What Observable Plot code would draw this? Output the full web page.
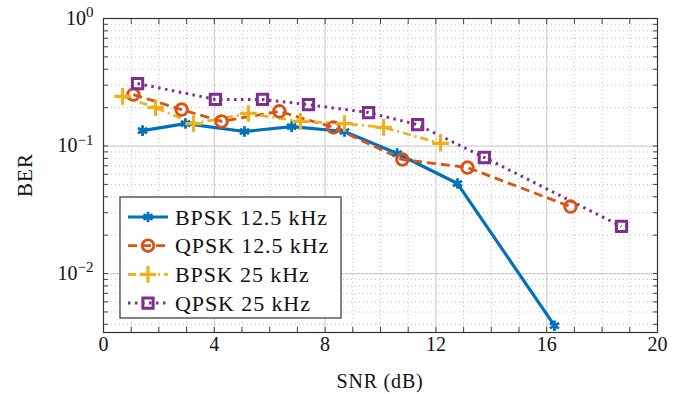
<!DOCTYPE html>
<html><head><meta charset="utf-8">
<script src="https://cdn.jsdelivr.net/npm/d3@7"></script>
<script src="https://cdn.jsdelivr.net/npm/@observablehq/plot@0.6"></script>
<style>
html,body{margin:0;padding:0;background:#fff;}
svg{display:block;font-family:"Liberation Serif","DejaVu Serif",serif;}
</style>
</head><body>
<div id="chart"></div>
<script>
// Data
const series = ["BPSK 12.5 kHz", "QPSK 12.5 kHz", "BPSK 25 kHz", "QPSK 25 kHz"];
const colors = ["#0072BD", "#D95319", "#EDB120", "#7E2F8E"];
const snr_b125 = [1.41, 2.96, 5.09, 6.79, 8.70, 10.6, 12.78, 16.28];
const ber_b125 = [0.132, 0.150, 0.130, 0.142, 0.130, 0.0873, 0.0508, 0.0039];
const snr_q125 = [1.08, 2.82, 4.26, 6.35, 8.30, 10.79, 13.14, 16.86];
const ber_q125 = [0.253, 0.193, 0.156, 0.187, 0.140, 0.0784, 0.0678, 0.0335];
const snr_b25 = [0.69, 1.88, 3.25, 5.23, 7.11, 8.70, 10.11, 12.17];
const ber_b25 = [0.245, 0.200, 0.150, 0.180, 0.156, 0.150, 0.140, 0.105];
const snr_q25 = [1.23, 4.04, 5.74, 7.40, 9.57, 11.34, 13.75, 18.70];
const ber_q25 = [0.309, 0.232, 0.232, 0.211, 0.183, 0.147, 0.0813, 0.0234];
const xTicks = [0, 4, 8, 12, 16, 20];
const yTicks = [1, 0.1, 0.01];
const xLabel = "SNR (dB)";
const yLabel = "BER";

const xs = [snr_b125, snr_q125, snr_b25, snr_q25];
const ys = [ber_b125, ber_q125, ber_b25, ber_q25];
const data = series.flatMap((s, i) => xs[i].map((x, j) => ({series: s, snr: x, ber: ys[i][j]})));

const styles = [
  {dash: null, width: 3.2, symbol: "asterisk", r: 5, sw: 2.8},
  {dash: "9,5", width: 2.8, symbol: "circle", r: 5.8, sw: 2.9},
  {dash: "8,4,2,4", width: 2.8, symbol: "plus", r: 5.4, sw: 3.2},
  {dash: "2.5,4.5", width: 3, symbol: "square", r: 5.8, sw: 3}
];

const xMinor = d3.range(0, 21, 1);
const yMinor = [];
for (const e of [-3, -2, -1]) for (let k = 1; k <= 9; k++) { const v = k * Math.pow(10, e); if (v >= 0.00345) yMinor.push(v); }
yMinor.push(1);
const xMinorGrid = xMinor.filter(v => !xTicks.includes(v));
const yMinorGrid = yMinor.filter(v => !yTicks.includes(v));

const W = 697, H = 394;
const marks = [
  Plot.ruleX(xMinorGrid, {stroke: "#bdbdbd", strokeDasharray: "1,3", strokeWidth: 1}),
  Plot.ruleY(yMinorGrid, {stroke: "#bdbdbd", strokeDasharray: "1,3", strokeWidth: 1}),
  Plot.ruleX(xTicks.slice(1, -1), {stroke: "#cfcfcf", strokeWidth: 1.2}),
  Plot.ruleY(yTicks.slice(1), {stroke: "#cfcfcf", strokeWidth: 1.2}),
  Plot.axisX({ticks: xMinor, tickSize: 5, text: null, dy: -5, stroke: "#444"}),
  Plot.axisX({anchor: "top", ticks: xMinor, tickSize: 5, text: null, dy: 5, stroke: "#444", label: null}),
  Plot.axisY({ticks: yMinor, tickSize: 5, text: null, dx: 5, stroke: "#444", label: null}),
  Plot.axisY({anchor: "right", ticks: yMinor, tickSize: 5, text: null, dx: -5, stroke: "#444", label: null}),
  Plot.axisX({ticks: xTicks, tickSize: 0, tickPadding: 4, tickFormat: d => String(d), fontSize: 20, fill: "#111", label: null}),
  Plot.axisY({ticks: yTicks, tickSize: 0, tickPadding: 10, tickFormat: d => "e" + Math.round(Math.log10(d)), fontSize: 20, fill: "#111", label: null}),
  Plot.frame({stroke: "#333", strokeWidth: 1.2})
];
series.forEach((s, i) => {
  const st = styles[i];
  const d = data.filter(r => r.series === s);
  marks.push(Plot.line(d, {x: "snr", y: "ber", stroke: colors[i], strokeWidth: st.width, strokeDasharray: st.dash, strokeLinecap: "butt"}));
});
series.forEach((s, i) => {
  const st = styles[i];
  const d = data.filter(r => r.series === s);
  marks.push(Plot.dot(d, {x: "snr", y: "ber", symbol: st.symbol, r: st.r, stroke: colors[i], strokeWidth: st.sw, fill: "none"}));
});

const plot = Plot.plot({
  width: W, height: H,
  marginLeft: 103, marginRight: 40, marginTop: 18, marginBottom: 62,
  style: {fontFamily: "'Liberation Serif', 'DejaVu Serif', serif", background: "#fff"},
  x: {domain: [0, 20], label: null},
  y: {type: "log", domain: [0.00345, 1], label: null},
  marks
});

const svg = d3.select(plot);
// superscript tick labels for y
svg.selectAll("g[aria-label='y-axis tick label'] text").each(function() {
  const t = d3.select(this);
  const txt = t.text();
  if (!txt.startsWith("e")) return;
  const exp = txt.slice(1).replace("-", "\u2212");
  t.text(null);
  t.append("tspan").text("10");
  t.append("tspan").attr("dy", "-0.5em").attr("font-size", "0.75em").text(exp);
});

// axis titles
svg.append("text").attr("x", 103 + (W - 103 - 40) / 2).attr("y", 388)
  .attr("text-anchor", "middle").attr("font-size", 20).attr("letter-spacing", 0.8).attr("fill", "#111").text(xLabel);
svg.append("text").attr("transform", `translate(32,175) rotate(-90)`)
  .attr("text-anchor", "middle").attr("font-size", 21).attr("letter-spacing", 1).attr("fill", "#111").text(yLabel);

// legend
const lg = svg.append("g").attr("text-anchor", "start");
const lx = 120, ly = 197, lw = 221, lh = 121;
lg.append("rect").attr("x", lx).attr("y", ly).attr("width", lw).attr("height", lh)
  .attr("fill", "#fff").attr("stroke", "#333").attr("stroke-width", 1.2);
const symMap = {asterisk: d3.symbolAsterisk, circle: d3.symbolCircle, plus: d3.symbolPlus, square: d3.symbolSquare};
series.forEach((s, i) => {
  const st = styles[i];
  const yy = ly + 20 + i * 28.7;
  lg.append("line").attr("x1", lx + 8).attr("x2", lx + 48).attr("y1", yy).attr("y2", yy)
    .attr("stroke", colors[i]).attr("stroke-width", st.width)
    .attr("stroke-dasharray", st.dash);
  const size = Math.PI * st.r * st.r;
  lg.append("path").attr("d", d3.symbol(symMap[st.symbol], size)())
    .attr("transform", `translate(${lx + 28},${yy})`)
    .attr("fill", "none").attr("stroke", colors[i]).attr("stroke-width", st.sw);
  lg.append("text").attr("x", lx + 55).attr("y", yy).attr("dy", "0.35em")
    .attr("text-anchor", "start")
    .attr("font-size", 22).attr("letter-spacing", 0.9).attr("fill", "#111").text(s);
});

document.getElementById("chart").appendChild(plot);
</script>
</body></html>
